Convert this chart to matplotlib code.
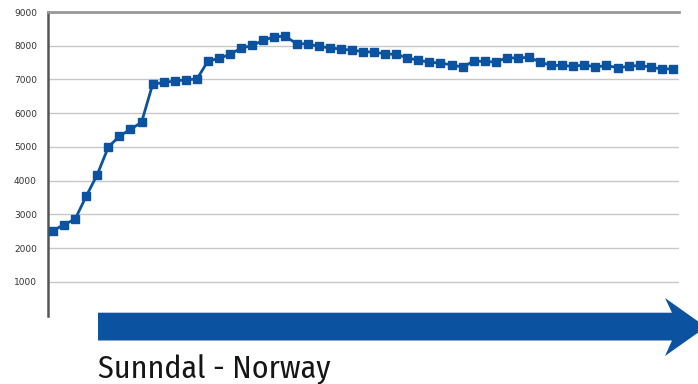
import matplotlib
matplotlib.use("Agg")
import matplotlib.pyplot as plt
from matplotlib.patches import Polygon
import numpy as np

# Data
values = [2520, 2700, 2860, 3540, 4180, 5000, 5317, 5524, 5731, 6855,
          6914, 6953, 6993, 7012, 7548, 7623, 7750, 7929, 8009, 8157,
          8270, 8280, 8059, 8059, 7980, 7940, 7900, 7870, 7826, 7810,
          7760, 7743, 7645, 7565, 7515, 7485, 7436, 7367, 7545, 7535,
          7515, 7645, 7633, 7660, 7515, 7417, 7417, 7388, 7436, 7367,
          7417, 7348, 7388, 7417, 7367, 7308, 7318]
ytick_values = [1000, 2000, 3000, 4000, 5000, 6000, 7000, 8000, 9000]
ytick_labels = [str(v) for v in ytick_values]
caption = "Sunndal - Norway"

W, H = 698, 384
BLUE = "#0b52a1"

fig = plt.figure(figsize=(W / 100, H / 100), dpi=100)
ax = fig.add_axes([48 / W, 1 - 315.7 / H, (679 - 48) / W, (315.7 - 12) / H])

x = np.arange(len(values))
ax.plot(x, values, color=BLUE, lw=2.0, marker='s', ms=5.2, mec=BLUE, mfc=BLUE,
        zorder=3, clip_on=False)

ax.set_xlim(-0.45, len(values) - 0.45)
ax.set_ylim(0, 9000)
ax.set_yticks(ytick_values)
ax.set_yticklabels(ytick_labels)
ax.set_xticks([])
ax.grid(axis='y', color='#c8c8c8', lw=1.0)
ax.set_axisbelow(True)

for s in ['right', 'bottom']:
    ax.spines[s].set_visible(False)
ax.spines['left'].set_color('#555555')
ax.spines['left'].set_linewidth(1.8)
ax.spines['top'].set_color('#999999')
ax.spines['top'].set_linewidth(2.0)

ax.tick_params(axis='y', length=0, pad=8, labelsize=6.5, labelcolor='#333333')

# Big arrow below the chart (figure pixel coordinates)
pts = [(98, 312.7), (672, 312.7), (665, 298), (706, 327), (665, 356),
       (672, 340.5), (98, 340.5)]
poly = Polygon([(px / W, 1 - py / H) for px, py in pts], closed=True,
               transform=fig.transFigure, facecolor=BLUE, edgecolor='none',
               clip_on=False)
fig.patches.append(poly)

fig.text(98 / W, 1 - 378 / H, caption, fontsize=23, weight='normal',
         family=['Fira Sans Condensed', 'DejaVu Sans'], color='#151515',
         ha='left', va='baseline')

fig.savefig("out.png", dpi=100)
